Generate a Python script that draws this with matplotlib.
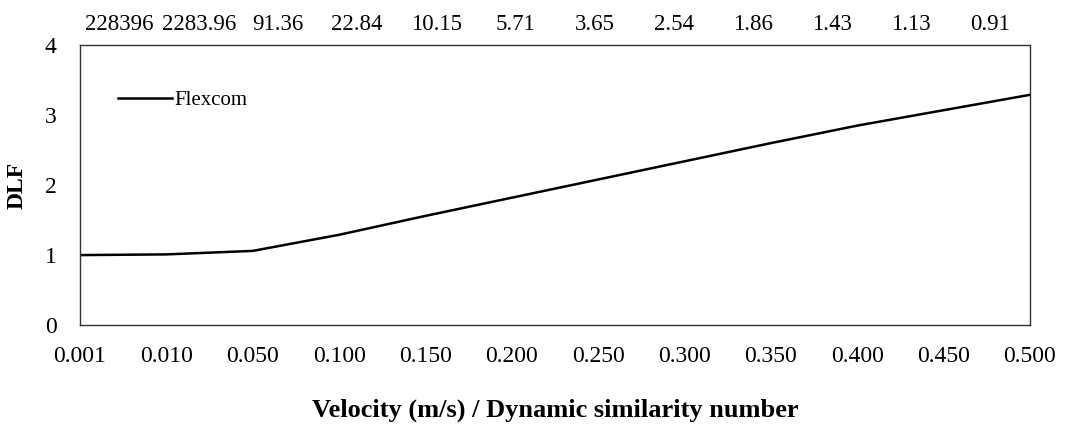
import matplotlib.pyplot as plt

# data
velocity = ["0.001", "0.010", "0.050", "0.100", "0.150", "0.200",
            "0.250", "0.300", "0.350", "0.400", "0.450", "0.500"]
similarity = ["228396", "2283.96", "91.36", "22.84", "10.15", "5.71",
              "3.65", "2.54", "1.86", "1.43", "1.13", "0.91"]
dlf_flexcom = [1.00, 1.01, 1.06, 1.29, 1.56, 1.82,
               2.08, 2.34, 2.60, 2.85, 3.07, 3.29]

plt.rcParams['font.family'] = ['Liberation Serif', 'DejaVu Serif']

fig = plt.figure(figsize=(10.83, 4.30), dpi=100)
ax = fig.add_axes([0.0739, 0.244, 0.877, 0.651])

x = list(range(len(velocity)))
ax.plot(x, dlf_flexcom, color='black', linewidth=1.8, label='Flexcom')

ax.set_xlim(0, len(velocity) - 1)
ax.set_ylim(0, 4)
ax.set_yticks([0, 1, 2, 3, 4])
ax.set_xticks(x)
ax.set_xticklabels(velocity)
ax.tick_params(axis='both', length=0, labelsize=17)
ax.tick_params(axis='x', pad=15)
ax.tick_params(axis='y', pad=17)
for s in ax.spines.values():
    s.set_linewidth(1.0)
    s.set_color('#333333')

ax.set_ylabel('DLF', fontsize=17, fontweight='bold', labelpad=12)
ax.set_xlabel('Velocity (m/s) / Dynamic similarity number',
              fontsize=19, fontweight='bold', labelpad=23)

# top axis: similarity numbers sit between the category ticks
ax2 = ax.twiny()
ax2.set_xlim(0, len(similarity))
ax2.set_xticks([i + 0.5 for i in range(len(similarity))])
ax2.set_xticklabels(similarity)
ax2.tick_params(axis='x', length=0, labelsize=16.5, pad=7)
for s in ax2.spines.values():
    s.set_visible(False)

ax.legend(loc='upper left', frameon=False, fontsize=15,
          bbox_to_anchor=(0.02, 0.905), handlelength=2.6, handletextpad=0.1)

fig.savefig('out.png', dpi=100)
